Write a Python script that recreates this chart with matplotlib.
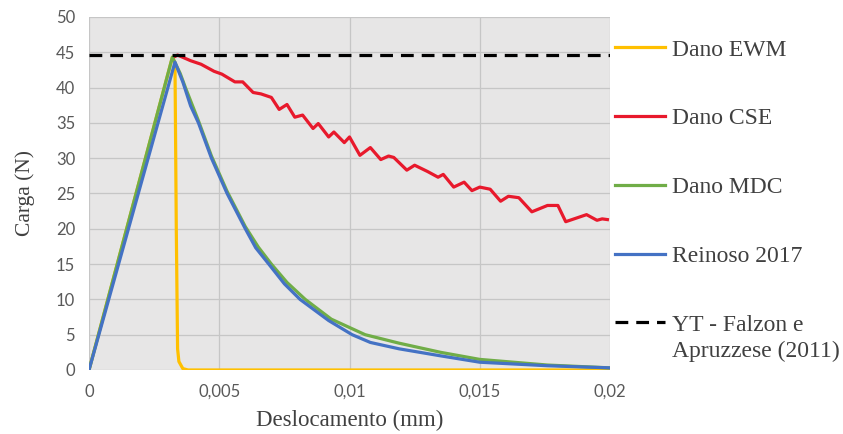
import matplotlib.pyplot as plt
from matplotlib.transforms import IdentityTransform

# deslocamento (mm) e carga (N)
x_ewm = [0, 0.0032, 0.0033, 0.00335, 0.0034, 0.00345, 0.0036, 0.0038, 0.02]
y_ewm = [0, 44.3, 43.5, 20.0, 3.0, 1.2, 0.2, 0.0, 0.0]

x_cse = [0.0033, 0.0034, 0.0039, 0.0043, 0.0048, 0.0051, 0.0056, 0.0059, 0.0063,
         0.0066, 0.0070, 0.0073, 0.0076, 0.0079, 0.0082, 0.0086, 0.0088, 0.0092,
         0.0094, 0.0098, 0.0100, 0.0104, 0.0108, 0.0112, 0.0115, 0.0117, 0.0122,
         0.0125, 0.0130, 0.0134, 0.0136, 0.0140, 0.0144, 0.0147, 0.0150, 0.0154,
         0.0158, 0.0161, 0.0165, 0.0170, 0.0176, 0.0180, 0.0183, 0.0191, 0.0195,
         0.0197, 0.0199]
y_cse = [44.4, 44.6, 43.8, 43.3, 42.3, 41.9, 40.8, 40.8, 39.3,
         39.1, 38.6, 36.9, 37.6, 35.8, 36.1, 34.2, 34.9, 33.0,
         33.7, 32.2, 33.0, 30.4, 31.5, 29.8, 30.3, 30.1, 28.3,
         29.0, 28.1, 27.3, 27.7, 25.9, 26.6, 25.4, 25.9, 25.6,
         23.9, 24.6, 24.4, 22.4, 23.3, 23.3, 21.0, 22.0, 21.2,
         21.4, 21.3]

x_mdc = [0, 0.0032, 0.0035, 0.0037, 0.0042, 0.0047, 0.0053, 0.0060, 0.0065, 0.0070,
         0.0076, 0.0083, 0.0093, 0.0106, 0.0119, 0.0135, 0.0150, 0.0176, 0.0200]
y_mdc = [0, 44.3, 42.0, 40.0, 35.3, 30.3, 25.3, 20.3, 17.4, 15.0,
         12.4, 10.0, 7.2, 5.0, 3.8, 2.5, 1.5, 0.7, 0.3]

x_rei = [0, 0.0033, 0.0036, 0.0039, 0.0042, 0.0047, 0.0053, 0.0060, 0.0064, 0.0069,
         0.0075, 0.0081, 0.0092, 0.0101, 0.0108, 0.0119, 0.0135, 0.0150, 0.0176, 0.0200]
y_rei = [0, 43.6, 40.8, 37.4, 35.0, 30.0, 25.0, 20.0, 17.3, 15.0,
         12.2, 10.0, 7.0, 5.0, 3.9, 3.0, 2.0, 1.1, 0.6, 0.3]

x_yt = [0, 0.02]
y_yt = [44.6, 44.6]

xticks = [0, 0.005, 0.01, 0.015, 0.02]
xtick_labels = ['0', '0,005', '0,01', '0,015', '0,02']
yticks = list(range(0, 51, 5))

fig = plt.figure(figsize=(8.43, 4.34), dpi=100)
ax = fig.add_axes([0.1056, 0.1475, 0.618, 0.8135])
ax.set_facecolor('#e7e6e6')

ax.plot(x_ewm, y_ewm, color='#ffc000', lw=2.3, label='Dano EWM')
ax.plot(x_cse, y_cse, color='#e8192c', lw=2.3, label='Dano CSE')
ax.plot(x_mdc, y_mdc, color='#70ad47', lw=2.3, label='Dano MDC')
ax.plot(x_rei, y_rei, color='#4472c4', lw=2.3, label='Reinoso 2017')
ax.plot(x_yt, y_yt, color='black', lw=2.3, ls=(0, (4, 2.5)),
        label='YT - Falzon e')

ax.set_xlim(0, 0.02)
ax.set_ylim(0, 50)
ax.set_xticks(xticks)
ax.set_xticklabels(xtick_labels)
ax.set_yticks(yticks)
ax.grid(True, color='#c6c6c6', lw=0.9)
ax.set_axisbelow(True)
for s in ax.spines.values():
    s.set_visible(False)
ax.tick_params(length=0, pad=10, labelsize=12, labelcolor='#595959')
for lab in ax.get_xticklabels() + ax.get_yticklabels():
    lab.set_family(['Lato', 'DejaVu Sans'])

ax.set_xlabel('Deslocamento (mm)', family='Liberation Serif', fontsize=16.5,
              color='#404040', labelpad=7)
ax.set_ylabel('Carga (N)', family='Liberation Serif', fontsize=15.5,
              color='#404040', labelpad=15)

leg = fig.legend(loc='upper left', bbox_to_anchor=(0.7295, 0.910), frameon=False,
                 prop={'family': 'Liberation Serif', 'size': 17},
                 handlelength=2.1, handletextpad=0.3, labelspacing=2.0,
                 borderaxespad=0, borderpad=0)
for t in leg.get_texts():
    t.set_color('#404040')

# segunda linha do rotulo do YT, alinhada abaixo da primeira
fig.canvas.draw()
t_last = leg.get_texts()[-1]
px, py = t_last.get_transform().transform(t_last.get_position())
fig.text(px, py - 26, 'Apruzzese (2011)', transform=IdentityTransform(),
         family='Liberation Serif', fontsize=17, color='#404040',
         ha='left', va='baseline')

fig.savefig('out.png', dpi=100, facecolor='white')
